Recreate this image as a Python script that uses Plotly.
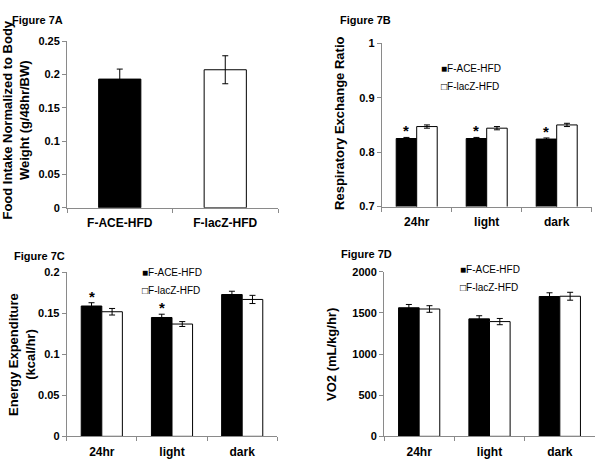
import plotly.graph_objects as go

# ---------------- data ----------------
groups_a = ["F-ACE-HFD", "F-lacZ-HFD"]
food_intake = [0.193, 0.207]
food_err = [0.015, 0.021]

periods = ["24hr", "light", "dark"]
series_names = ["F-ACE-HFD", "F-lacZ-HFD"]

rer_ace = [0.825, 0.825, 0.824]
rer_ace_err = [0.002, 0.002, 0.002]
rer_lacz = [0.847, 0.844, 0.850]
rer_lacz_err = [0.003, 0.003, 0.003]
rer_sig = ["*", "*", "*"]

ee_ace = [0.159, 0.145, 0.173]
ee_ace_err = [0.004, 0.004, 0.004]
ee_lacz = [0.152, 0.137, 0.167]
ee_lacz_err = [0.004, 0.003, 0.005]
ee_sig = ["*", "*", ""]

vo2_ace = [1563, 1428, 1700]
vo2_ace_err = [40, 38, 45]
vo2_lacz = [1548, 1395, 1703]
vo2_lacz_err = [40, 38, 48]

ticks_a = [0, 0.05, 0.1, 0.15, 0.2, 0.25]
ticks_b = [0.7, 0.8, 0.9, 1.0]
ticks_c = [0, 0.05, 0.1, 0.15, 0.2]
ticks_d = [0, 500, 1000, 1500, 2000]

# ---------------- figure ----------------
W, H = 603, 475
FONT = "Liberation Sans, Arial, sans-serif"
AX = "#8a8a8a"


def px(x):
    return x / W


def py(y):
    return 1 - y / H


fig = go.Figure()

err_style = dict(type="data", color="black", thickness=1, width=3, visible=True)

# Panel A
fig.add_trace(go.Bar(x=groups_a, y=food_intake, width=0.4,
                     marker=dict(color=["black", "white"], line=dict(color="black", width=1)),
                     error_y=dict(array=food_err, **err_style),
                     xaxis="x", yaxis="y", showlegend=False))


def pair(xa, ya, ace, ace_err, lacz, lacz_err):
    fig.add_trace(go.Bar(x=periods, y=ace, name=series_names[0],
                         marker=dict(color="black", line=dict(color="black", width=1)),
                         error_y=dict(array=ace_err, **err_style),
                         xaxis=xa, yaxis=ya, showlegend=False, offsetgroup="a"))
    fig.add_trace(go.Bar(x=periods, y=lacz, name=series_names[1],
                         marker=dict(color="white", line=dict(color="black", width=1)),
                         error_y=dict(array=lacz_err, **err_style),
                         xaxis=xa, yaxis=ya, showlegend=False, offsetgroup="b"))


pair("x2", "y2", rer_ace, rer_ace_err, rer_lacz, rer_lacz_err)
pair("x3", "y3", ee_ace, ee_ace_err, ee_lacz, ee_lacz_err)
pair("x4", "y4", vo2_ace, vo2_ace_err, vo2_lacz, vo2_lacz_err)

tickfont = dict(family=FONT, size=11, color="black", weight="bold")
xtickfont = dict(family=FONT, size=12, color="black", weight="bold")


def yax(domain, rng, tv, anchor):
    return dict(domain=domain, range=rng, tickvals=tv, ticktext=[f"{v:g}" for v in tv],
                showline=True, linecolor=AX, linewidth=1, ticks="outside", ticklen=4,
                tickcolor=AX, showgrid=False, zeroline=False, tickfont=tickfont,
                anchor=anchor, fixedrange=True)


def xax(domain, anchor):
    return dict(domain=domain, showline=True, linecolor=AX, linewidth=1,
                ticks="outside", ticklen=4, tickcolor=AX, tickson="boundaries",
                showgrid=False, zeroline=False, tickfont=xtickfont, anchor=anchor,
                ticklabelstandoff=4, fixedrange=True)


fig.update_layout(
    width=W, height=H,
    margin=dict(l=0, r=0, t=0, b=0),
    paper_bgcolor="white", plot_bgcolor="white",
    barmode="group", bargap=0.414, bargroupgap=0,
    font=dict(family=FONT, color="black"),
    xaxis=xax([px(67), px(278)], "y"),
    yaxis=yax([py(207), py(36)], [0, 0.25], ticks_a, "x"),
    xaxis2=xax([px(381.7), px(591.7)], "y2"),
    yaxis2=yax([py(205.7), py(38.3)], [0.7, 1.0], ticks_b, "x2"),
    xaxis3=xax([px(66.7), px(277.3)], "y3"),
    yaxis3=yax([py(441.5), py(273.3)], [0, 0.2], ticks_c, "x3"),
    xaxis4=xax([px(384), px(595)], "y4"),
    yaxis4=yax([py(441.5), py(272.7)], [0, 2000], ticks_d, "x4"),
)

ann = []
# Figure labels
for txt, x, y in [("Figure 7A", 10, 14), ("Figure 7B", 338, 14),
                  ("Figure 7C", 12, 256), ("Figure 7D", 339, 254)]:
    ann.append(dict(text=txt, x=px(x), y=py(y), xref="paper", yref="paper",
                    xanchor="left", yanchor="middle", showarrow=False,
                    font=dict(family=FONT, size=11, color="black", weight="bold")))

# Axis titles
titlefont = dict(family=FONT, size=13, color="black", weight="bold")
for txt, x, y in [("Food Intake Normalized to Body<br>Weight (g/48hr/BW)", 16.5, 117),
                  ("Respiratory Exchange Ratio", 340, 121),
                  ("Energy Expenditure<br>(kcal/hr)", 22, 358),
                  ("VO2 (mL/kg/hr)", 332, 358)]:
    ann.append(dict(text=txt, x=px(x), y=py(y), xref="paper", yref="paper",
                    xanchor="center", yanchor="middle", textangle=-90, showarrow=False,
                    font=titlefont))

# Legends
legfont = dict(family=FONT, size=10, color="black")
for x, y1, y2 in [(439, 64.3, 82.7), (139.5, 273.3, 291.7), (457.7, 270, 289)]:
    for sym, nm, y in [("\u25a0", series_names[0], y1), ("\u25a1", series_names[1], y2)]:
        ann.append(dict(text=sym + nm, x=px(x), y=py(y), xref="paper", yref="paper",
                        xanchor="left", yanchor="middle", showarrow=False, font=legfont))

# Significance stars above F-ACE-HFD bars
for xa, ya, vals, errs, sig in [("x2", "y2", rer_ace, rer_ace_err, rer_sig),
                                ("x3", "y3", ee_ace, ee_ace_err, ee_sig)]:
    for cat, v, e, s in zip(periods, vals, errs, sig):
        if s:
            ann.append(dict(text=s, x=cat, y=v + e, xref=xa, yref=ya, xshift=-10.3,
                            yanchor="bottom", yshift=-4, showarrow=False,
                            font=dict(family=FONT, size=15, color="black", weight="bold")))

fig.update_layout(annotations=ann)
fig.write_html("out.html", config={"responsive": False, "displayModeBar": False},
               post_script="document.body.style.margin='0';document.body.style.padding='0';")
